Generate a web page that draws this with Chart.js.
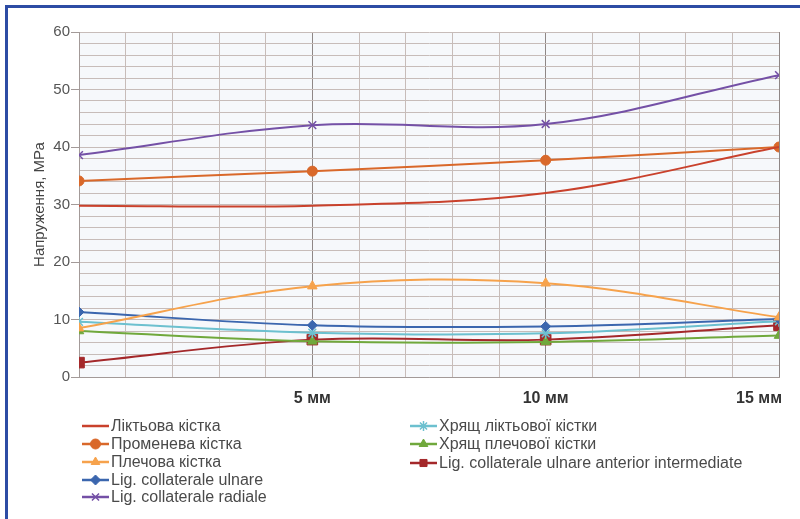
<!DOCTYPE html>
<html>
<head>
<meta charset="utf-8">
<script src="https://cdn.jsdelivr.net/npm/chart.js@4/dist/chart.umd.min.js"></script>
<style>
  html, body { margin: 0; padding: 0; background: #ffffff; }
  #wrap { position: relative; width: 800px; height: 519px; overflow: hidden; }
  #frame { position: absolute; left: 5px; top: 5px; width: 900px; height: 600px;
           border-top: 3px solid #2d4ca4; border-left: 3px solid #2d4ca4; pointer-events: none; }
  canvas { position: absolute; left: 0; top: 0; }
</style>
</head>
<body>
<div id="wrap">
  <canvas id="chart" width="800" height="519"></canvas>
  <div id="frame"></div>
</div>
<script>
// Distance from the reference point, mm
const distances = [0, 5, 10, 15];
const xTickLabels = { 5: '5 мм', 10: '10 мм', 15: '15 мм' };

// Stress, MPa
const ulnaBone        = [29.8, 29.8, 32.0, 40.0];
const radiusBone      = [34.1, 35.8, 37.7, 40.0];
const humerusBone     = [8.5, 15.8, 16.3, 10.4];
const ligUlnare       = [11.3, 9.0, 8.8, 10.1];
const ligRadiale      = [38.6, 43.8, 44.0, 52.5];
const ulnaCartilage   = [9.6, 7.7, 7.6, 9.7];
const humerusCartilage= [8.0, 6.2, 6.1, 7.2];
const ligUlnareAntInt = [2.5, 6.5, 6.5, 9.0];

const seriesNames = [
  'Ліктьова кістка',
  'Променева кістка',
  'Плечова кістка',
  'Lig. collaterale ulnare',
  'Lig. collaterale radiale',
  'Хрящ ліктьової кістки',
  'Хрящ плечової кістки',
  'Lig. collaterale ulnare anterior intermediate'
];

const toPoints = vals => vals.map((v, i) => ({ x: distances[i], y: v }));

function series(label, values, color, pointStyle, radius, extra) {
  return Object.assign({
    label,
    data: toPoints(values),
    borderColor: color,
    backgroundColor: color,
    pointBackgroundColor: color,
    pointBorderColor: color,
    borderWidth: 2,
    pointStyle,
    pointRadius: radius,
    pointHoverRadius: radius,
    pointBorderWidth: 1,
    tension: 0.36,
    fill: false
  }, extra || {});
}

const datasets = [
  series(seriesNames[0], ulnaBone,         '#c9412c', 'circle',   0),
  series(seriesNames[1], radiusBone,       '#d9682a', 'circle',   5),
  series(seriesNames[2], humerusBone,      '#f6a24c', 'triangle', 5.5),
  series(seriesNames[3], ligUlnare,        '#3b66ae', 'rectRot',  5),
  series(seriesNames[4], ligRadiale,       '#7450a6', 'crossRot', 5.5, { pointBorderWidth: 1.5 }),
  series(seriesNames[5], ulnaCartilage,    '#6cc0cf', 'star',     5.5, { pointBorderWidth: 1.5 }),
  series(seriesNames[6], humerusCartilage, '#70a83c', 'triangle', 5.5),
  series(seriesNames[7], ligUlnareAntInt,  '#a4282a', 'rect',     7.5)
];

// Light fill behind the plotting area; keep the last x label inside the canvas
const plotBackground = {
  id: 'plotBackground',
  beforeDraw(chart) {
    const { ctx, chartArea: a } = chart;
    ctx.save();
    ctx.fillStyle = '#f6f8fb';
    ctx.fillRect(a.left, a.top, a.right - a.left, a.bottom - a.top);
    ctx.restore();
    const items = chart.scales.x.getLabelItems();
    items.forEach(it => {
      if (it.label === xTickLabels[15]) {
        it.options.textAlign = 'right';
        it.options.translation[0] += 3;
      }
    });
  }
};

// Two-column legend under the x axis
const legendLayout = [
  { x: 82, y: 426 }, { x: 82, y: 444 }, { x: 82, y: 462 }, { x: 82, y: 480 }, { x: 82, y: 497 },
  { x: 410, y: 426 }, { x: 410, y: 444 }, { x: 410, y: 463 }
];
const columnLegend = {
  id: 'columnLegend',
  afterDraw(chart) {
    const ctx = chart.ctx;
    ctx.save();
    chart.data.datasets.forEach((ds, i) => {
      const p = legendLayout[i];
      const len = 27;
      ctx.strokeStyle = ds.borderColor;
      ctx.lineWidth = 2.5;
      ctx.beginPath();
      ctx.moveTo(p.x, p.y);
      ctx.lineTo(p.x + len, p.y);
      ctx.stroke();
      if (ds.pointRadius > 0) {
        ctx.fillStyle = ds.pointBackgroundColor;
        ctx.strokeStyle = ds.pointBorderColor;
        ctx.lineWidth = ds.pointBorderWidth;
        Chart.helpers.drawPoint(ctx, {
          pointStyle: ds.pointStyle,
          radius: Math.min(ds.pointRadius, 5),
          rotation: 0,
          borderWidth: ds.pointBorderWidth
        }, p.x + len / 2, p.y);
      }
      ctx.fillStyle = '#4a4a4a';
      ctx.font = '16px "Liberation Sans", Arial, sans-serif';
      ctx.textBaseline = 'middle';
      ctx.textAlign = 'left';
      ctx.fillText(ds.label, p.x + len + 2, p.y + 1);
    });
    ctx.restore();
  }
};

new Chart(document.getElementById('chart'), {
  type: 'line',
  data: { datasets },
  plugins: [plotBackground, columnLegend],
  options: {
    responsive: false,
    animation: false,
    layout: { padding: { left: 0, top: 32, right: 21, bottom: 0 } },
    plugins: {
      legend: { display: false },
      tooltip: { enabled: false }
    },
    scales: {
      x: {
        type: 'linear',
        min: 0,
        max: 15,
        afterFit(scale) {
          scale.height = 142;
          scale.paddingLeft = 0;
          scale.paddingRight = 0;
        },
        ticks: {
          stepSize: 1,
          autoSkip: false,
          maxRotation: 0,
          padding: 12,
          color: '#333333',
          font: { family: '"Liberation Sans", Arial, sans-serif', size: 16, weight: 'bold' },
          callback: v => xTickLabels[v] || ''
        },
        grid: {
          drawTicks: false,
          lineWidth: 1,
          color: ctx => (ctx.tick && ctx.tick.value % 5 === 0 && ctx.tick.value > 0) ? '#8f8786' : '#c7bcb9'
        },
        border: { display: true, color: '#a39a98', width: 1 }
      },
      y: {
        min: 0,
        max: 60,
        afterFit(scale) { scale.width = 79; },
        ticks: {
          stepSize: 2,
          autoSkip: false,
          padding: 1,
          color: '#555555',
          font: { family: '"Liberation Sans", Arial, sans-serif', size: 15 },
          callback: v => (v % 10 === 0 ? String(v) : '')
        },
        grid: {
          lineWidth: 1,
          tickLength: 8,
          color: '#c7bcb9',
          tickColor: ctx => (ctx.tick && ctx.tick.value % 10 === 0) ? '#a39a98' : 'rgba(0,0,0,0)'
        },
        border: { display: true, color: '#a39a98', width: 1 },
        title: {
          display: true,
          text: 'Напруження, МРа',
          color: '#444444',
          padding: { top: 31, bottom: 0 },
          font: { family: '"Liberation Sans", Arial, sans-serif', size: 15 }
        }
      }
    }
  }
});
</script>
</body>
</html>
